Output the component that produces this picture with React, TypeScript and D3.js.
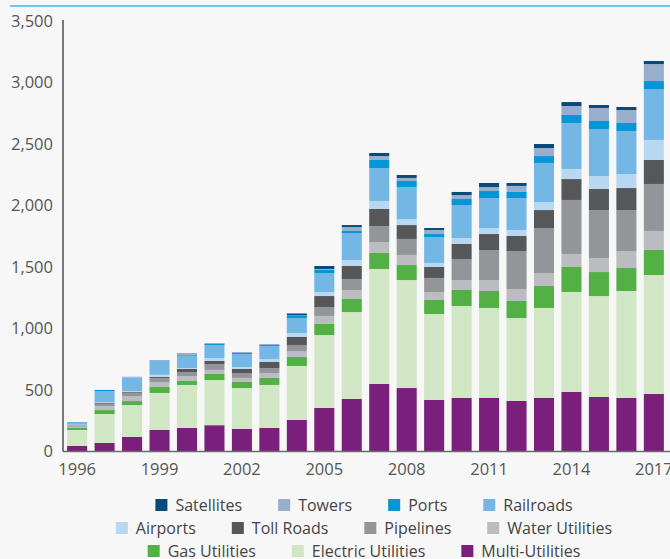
import React, { useEffect, useRef } from 'react';
import * as d3 from 'd3';

const years = d3.range(1996, 2018).map(String);
const tickYears = ['1996', '1999', '2002', '2005', '2008', '2011', '2014', '2017'];
const yTicks = [0, 500, 1000, 1500, 2000, 2500, 3000, 3500];

// bottom to top in the stack
const sectors = [
    'Multi-Utilities', 'Electric Utilities', 'Gas Utilities', 'Water Utilities', 'Pipelines',
    'Toll Roads', 'Airports', 'Railroads', 'Ports', 'Towers', 'Satellites'
];
const sectorColors = [
    '#7a1f7b', '#d0e6c4', '#52b044', '#bbbcc0', '#949598',
    '#555759', '#b8d7f1', '#74b6e4', '#0596d8', '#97aecd', '#0a4a7a'
];

// values per year, 1996..2017
const multiUtilities = [45, 69, 118, 175, 191, 214, 183, 191, 256, 354, 427, 549, 516, 419, 435, 435, 411, 435, 484, 443, 435, 468];
const electricUtilities = [130, 236, 260, 301, 350, 367, 333, 350, 439, 593, 707, 935, 878, 699, 748, 732, 674, 732, 813, 821, 870, 967];
const gasUtilities = [16, 32, 32, 48, 32, 49, 49, 57, 73, 90, 106, 130, 122, 114, 130, 138, 139, 179, 203, 195, 187, 203];
const waterUtilities = [11, 33, 41, 41, 41, 33, 33, 40, 49, 65, 73, 89, 82, 65, 81, 89, 97, 105, 106, 114, 138, 155];
const pipelines = [8, 19, 27, 33, 32, 48, 40, 41, 49, 73, 89, 130, 130, 114, 171, 244, 309, 366, 439, 390, 333, 382];
const tollRoads = [3, 8, 8, 8, 25, 25, 33, 49, 65, 89, 106, 139, 113, 89, 122, 130, 122, 146, 170, 171, 179, 195];
const airports = [5, 5, 6, 18, 8, 24, 16, 24, 32, 33, 49, 65, 49, 33, 49, 49, 49, 65, 82, 106, 114, 163];
const railroads = [15, 87, 111, 112, 100, 106, 106, 106, 122, 154, 219, 268, 260, 211, 268, 244, 260, 318, 374, 382, 350, 414];
const ports = [5, 11, 0, 0, 6, 8, 8, 8, 17, 25, 17, 65, 49, 24, 49, 57, 49, 56, 65, 65, 65, 65];
const towers = [2, 1, 5, 8, 16, 8, 8, 8, 4, 8, 32, 32, 25, 33, 32, 32, 49, 65, 73, 106, 105, 138];
const satellites = [0, 0, 0, 0, 0, 0, 0, 0, 16, 24, 16, 25, 24, 16, 25, 33, 24, 33, 32, 24, 25, 25];

const seriesValues = [
    multiUtilities, electricUtilities, gasUtilities, waterUtilities, pipelines,
    tollRoads, airports, railroads, ports, towers, satellites
];

// legend rows as they appear
const legendRows = [
    ['Satellites', 'Towers', 'Ports', 'Railroads'],
    ['Airports', 'Toll Roads', 'Pipelines', 'Water Utilities'],
    ['Gas Utilities', 'Electric Utilities', 'Multi-Utilities']
];

const svgWidth = 670, svgHeight = 559;
const font = '"Open Sans", "Noto Sans", sans-serif';

const App = () => {
    const ref = useRef(null);

    useEffect(() => {
        const svg = d3.select(ref.current);
        svg.selectAll('*').remove();

        svg.append('rect').attr('width', svgWidth).attr('height', svgHeight).attr('fill', '#f7f7f7');

        // header rule (title is cropped off above)
        svg.append('line')
            .attr('x1', 10).attr('x2', svgWidth)
            .attr('y1', 6).attr('y2', 6)
            .attr('stroke', '#45b6e8').attr('stroke-width', 1.5);

        const x = d3.scaleBand()
            .domain(years)
            .range([63, 668])
            .paddingInner(0.27)
            .paddingOuter(0.15);

        const y = d3.scaleLinear()
            .domain([0, 3500])
            .range([451.5, 21]);

        const rows = years.map((yr, i) => {
            const row = { year: yr };
            sectors.forEach((s, k) => { row[s] = seriesValues[k][i]; });
            return row;
        });
        const stacked = d3.stack().keys(sectors)(rows);
        const color = d3.scaleOrdinal().domain(sectors).range(sectorColors);

        svg.append('g')
            .selectAll('g')
            .data(stacked)
            .enter().append('g')
            .attr('fill', d => color(d.key))
            .selectAll('rect')
            .data(d => d)
            .enter().append('rect')
            .attr('x', d => x(d.data.year))
            .attr('y', d => y(d[1]))
            .attr('width', x.bandwidth())
            .attr('height', d => y(d[0]) - y(d[1]));

        // y axis
        const yAxis = svg.append('g')
            .attr('transform', 'translate(63,0)')
            .call(d3.axisLeft(y).tickValues(yTicks).tickSize(0).tickPadding(10).tickFormat(d3.format(',')));
        yAxis.select('.domain').attr('stroke', '#333').attr('stroke-width', 1.3).attr('d', `M0,${y(3500) - 1}V${y(0)}`);
        yAxis.selectAll('text').attr('font-family', font).attr('font-size', 16.5).attr('fill', '#555');

        // x axis
        const xAxis = svg.append('g')
            .attr('transform', `translate(0,${y(0)})`)
            .call(d3.axisBottom(x).tickValues(tickYears).tickSize(0).tickPadding(12));
        xAxis.select('.domain').attr('stroke', '#6b6b6b').attr('stroke-width', 1.6).attr('d', `M63,0H${svgWidth}`);
        xAxis.selectAll('text').attr('font-family', font).attr('font-size', 16.5).attr('fill', '#555');

        // legend
        const legend = svg.append('g').attr('font-family', font).attr('font-size', 16).attr('fill', '#444');
        const center = 364;
        legendRows.forEach((names, r) => {
            const rowG = legend.append('g');
            const cy = 505 + r * 23;
            let cx = 0;
            names.forEach(name => {
                rowG.append('rect')
                    .attr('x', cx).attr('y', cy - 6)
                    .attr('width', 12).attr('height', 12)
                    .attr('fill', color(name));
                const t = rowG.append('text')
                    .attr('x', cx + 20).attr('y', cy)
                    .attr('dy', '0.35em')
                    .text(name);
                cx += 20 + t.node().getComputedTextLength() + 36;
            });
            const rowWidth = cx - 36;
            rowG.attr('transform', `translate(${center - rowWidth / 2},0)`);
        });
    }, []);

    return (
        <svg ref={ref} width={svgWidth} height={svgHeight}
            style={{ position: 'absolute', left: 0, top: 0, display: 'block' }} />
    );
};

export default App;
